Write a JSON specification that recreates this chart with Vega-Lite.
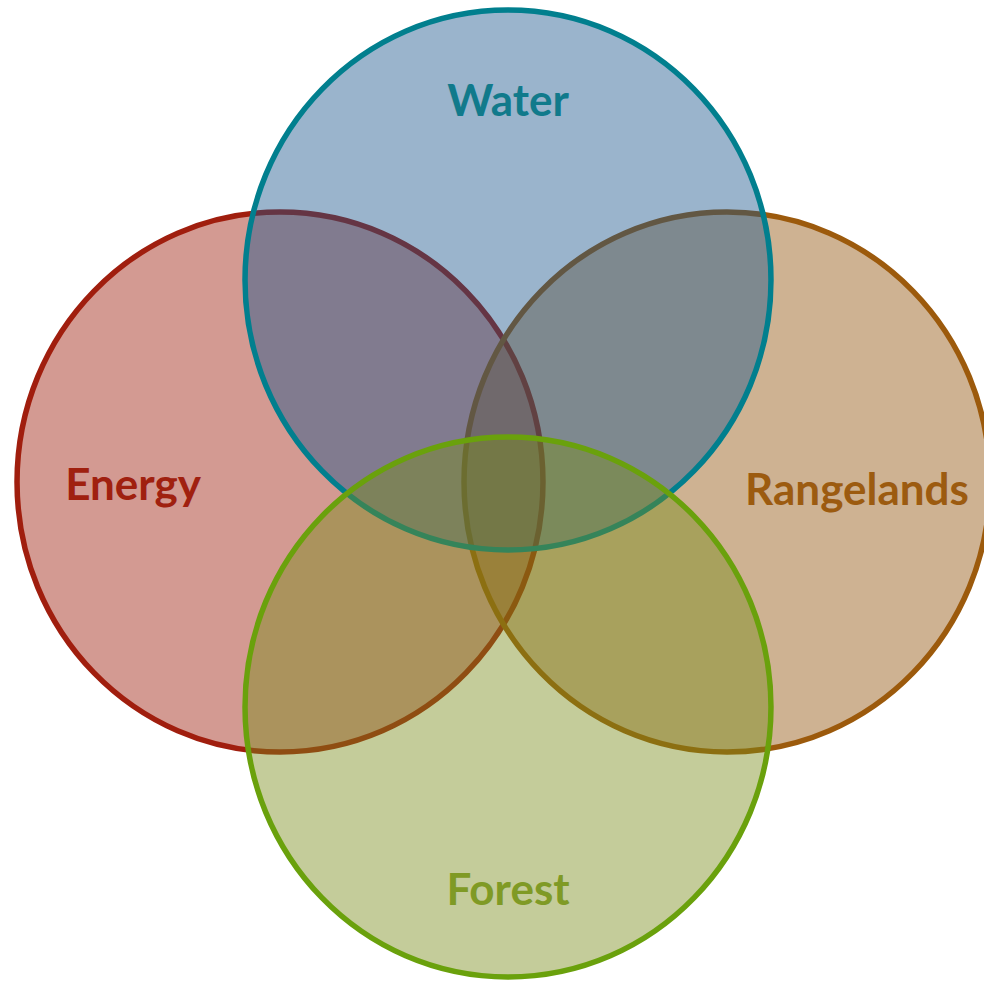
{
  "$schema": "https://vega.github.io/schema/vega-lite/v6.json",
  "width": 984,
  "height": 981,
  "padding": 0,
  "autosize": {"type": "none"},
  "background": "white",
  "config": {"view": {"stroke": null}},
  "datasets": {
    "sets": [
      {"name": "Energy", "cx": -2.28, "cy": 0.12},
      {"name": "Rangelands", "cx": 2.19, "cy": 0.12},
      {"name": "Water", "cx": 0.0, "cy": 2.14},
      {"name": "Forest", "cx": 0.0, "cy": -2.13}
    ],
    "labels": [
      {"name": "Water", "lx": 0.0, "ly": 3.91},
      {"name": "Energy", "lx": -3.75, "ly": 0.07},
      {"name": "Rangelands", "lx": 3.49, "ly": 0.02},
      {"name": "Forest", "lx": 0.0, "ly": -3.98}
    ]
  },
  "layer": [
    {
      "data": {"name": "sets"},
      "mark": {
        "type": "point",
        "shape": "M-0.974,0A0.974,1,0,1,0,0.974,0A0.974,1,0,1,0,-0.974,0Z",
        "size": 291600,
        "filled": true,
        "fillOpacity": 0.44,
        "strokeOpacity": 1,
        "strokeWidth": 5.5,
        "opacity": 1
      },
      "encoding": {
        "x": {"field": "cx", "type": "quantitative", "axis": null, "scale": {"domain": [-5.08, 4.76], "nice": false, "zero": false}},
        "y": {"field": "cy", "type": "quantitative", "axis": null, "scale": {"domain": [-4.87, 4.94], "nice": false, "zero": false}},
        "fill": {"field": "name", "type": "nominal", "legend": null, "scale": {"domain": ["Water", "Energy", "Rangelands", "Forest"], "range": ["#19558B", "#9B1907", "#905007", "#798B19"]}},
        "stroke": {"field": "name", "type": "nominal", "legend": null, "scale": {"domain": ["Water", "Energy", "Rangelands", "Forest"], "range": ["#017F8E", "#A01E0E", "#9C5A0C", "#6AA10C"]}}
      }
    },
    {
      "data": {"name": "labels"},
      "mark": {"type": "text", "font": "Lato", "fontWeight": "bold", "fontSize": 44, "align": "center", "baseline": "middle"},
      "encoding": {
        "x": {"field": "lx", "type": "quantitative", "axis": null, "scale": {"domain": [-5.08, 4.76], "nice": false, "zero": false}},
        "y": {"field": "ly", "type": "quantitative", "axis": null, "scale": {"domain": [-4.87, 4.94], "nice": false, "zero": false}},
        "text": {"field": "name", "type": "nominal"},
        "color": {"field": "name", "type": "nominal", "legend": null, "scale": {"domain": ["Water", "Energy", "Rangelands", "Forest"], "range": ["#117A8B", "#A0200F", "#9C5B10", "#7F9A25"]}}
      }
    }
  ],
  "resolve": {"scale": {"color": "independent"}}
}
